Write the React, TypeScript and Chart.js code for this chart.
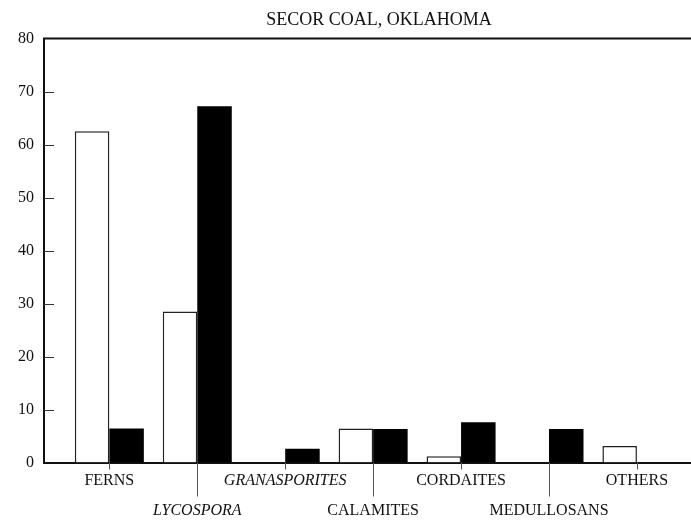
import React, { useEffect, useRef } from "react";
import { Chart, registerables } from "chart.js";

Chart.register(...registerables);

const TITLE = "SECOR COAL, OKLAHOMA";
const categories = ["FERNS", "LYCOSPORA", "GRANASPORITES", "CALAMITES", "CORDAITES", "MEDULLOSANS", "OTHERS"];
const italicCats = [false, true, true, false, false, false, false];
const whiteValues = [62.5, 28.5, 0, 6.4, 1.2, 0, 3.1];
const blackValues = [6.4, 67.2, 2.6, 6.3, 7.6, 6.3, 0];
const yTicks = [0, 10, 20, 30, 40, 50, 60, 70, 80];

const FONT = '"Liberation Serif", "Times New Roman", serif';

const decorPlugin = {
  id: "decor",
  afterDraw(chart: any) {
    const { ctx, chartArea, scales } = chart;
    const xs = scales.x;
    const ys = scales.y;
    const line = (x1: number, y1: number, x2: number, y2: number) => {
      ctx.beginPath();
      ctx.moveTo(x1, y1);
      ctx.lineTo(x2, y2);
      ctx.stroke();
    };
    ctx.save();
    ctx.strokeStyle = "#111";
    ctx.lineWidth = 2;
    const topY = ys.getPixelForValue(yTicks[yTicks.length - 1]);
    line(chartArea.left - 1, topY, chartArea.right, topY);
    ctx.lineWidth = 1;
    ctx.strokeStyle = "#333";
    yTicks.slice(1, -1).forEach((v) => {
      const py = Math.round(ys.getPixelForValue(v)) + 0.5;
      line(chartArea.left, py, chartArea.left + 10, py);
    });
    ctx.strokeStyle = "#555";
    categories.forEach((_, i) => {
      const px = Math.round(xs.getPixelForValue(i + 1)) + 0.5;
      const len = i % 2 === 0 ? 7 : 34;
      line(px, chartArea.bottom, px, chartArea.bottom + len);
    });
    ctx.fillStyle = "#111";
    ctx.font = `18px ${FONT}`;
    ctx.textAlign = "center";
    ctx.textBaseline = "middle";
    ctx.fillText(TITLE, 379, 20);
    ctx.restore();
  },
};

export default function App() {
  const ref = useRef<HTMLCanvasElement | null>(null);
  useEffect(() => {
    if (!ref.current) return;
    const chart = new Chart(ref.current, {
      type: "bar",
      data: {
        datasets: [
          {
            label: "white",
            data: whiteValues.map((v, i) => ({ x: i + 1, y: v })),
            backgroundColor: "#ffffff",
            borderColor: "#222",
            borderWidth: 1.5,
          },
          {
            label: "black",
            data: blackValues.map((v, i) => ({ x: i + 1, y: v })),
            backgroundColor: "#000000",
            borderColor: "#000",
            borderWidth: 0,
          },
        ],
      },
      options: {
        responsive: false,
        animation: false,
        barPercentage: 1,
        categoryPercentage: 0.785,
        layout: { padding: { top: 38.5, left: 0, right: 0, bottom: 0 } },
        plugins: {
          legend: { display: false },
          title: { display: false },
          tooltip: { enabled: false },
        },
        scales: {
          x: {
            type: "linear",
            min: 0.257,
            max: 7.615,
            offset: false,
            grid: { display: false, drawTicks: false },
            border: { display: true, color: "#111", width: 2 },
            afterBuildTicks: (scale: any) => {
              scale.ticks = categories.map((_, i) => ({ value: i + 1 }));
            },
            afterFit: (scale: any) => {
              scale.height = 61.5;
            },
            ticks: {
              autoSkip: false,
              maxRotation: 0,
              minRotation: 0,
              padding: 3,
              color: "#111",
              callback: (value: any) => {
                const i = Math.round(Number(value)) - 1;
                const name = categories[i] ?? "";
                return i % 2 === 0 ? [name, ""] : ["", name];
              },
              font: (ctx: any) => ({
                family: FONT,
                size: 16,
                style: italicCats[ctx.index] ? "italic" : "normal",
                lineHeight: 1.875,
              }),
            },
          },
          y: {
            min: 0,
            max: 80,
            grid: { display: false, drawTicks: false },
            border: { display: true, color: "#111", width: 2 },
            afterBuildTicks: (scale: any) => {
              scale.ticks = yTicks.map((v) => ({ value: v }));
            },
            afterFit: (scale: any) => {
              scale.width = 44;
            },
            ticks: {
              padding: 10,
              color: "#111",
              font: { family: FONT, size: 16 },
            },
          },
        },
      },
      plugins: [decorPlugin],
    } as any);
    return () => chart.destroy();
  }, []);
  return (
    <div style={{ position: "absolute", left: 0, top: 0, width: 691, height: 524, background: "#fff" }}>
      <canvas ref={ref} width={691} height={524} style={{ display: "block" }} />
    </div>
  );
}
